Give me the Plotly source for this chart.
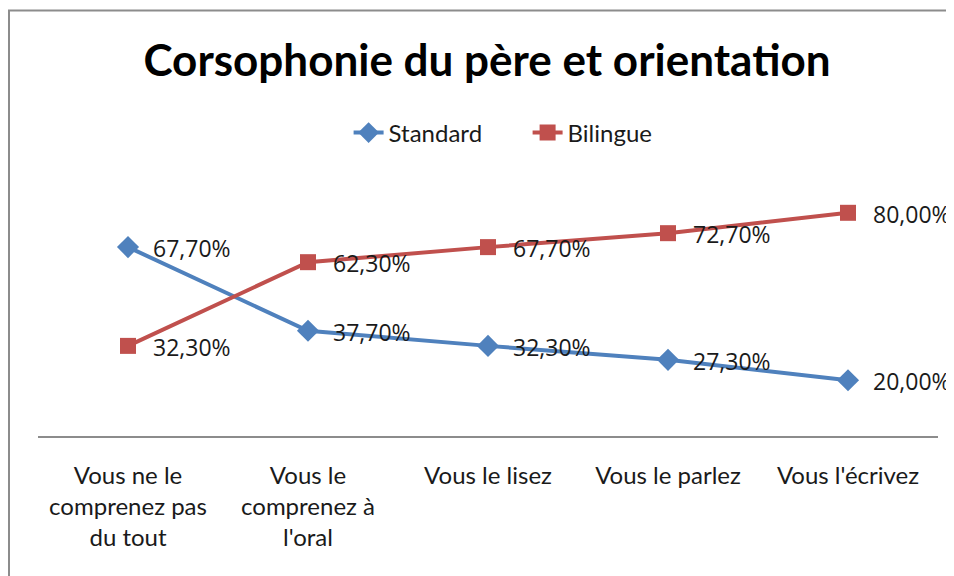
import plotly.graph_objects as go

categories = ["Vous ne le<br>comprenez pas<br>du tout", "Vous le<br>comprenez à<br>l'oral",
              "Vous le lisez", "Vous le parlez", "Vous l'écrivez"]
standard = [67.7, 37.7, 32.3, 27.3, 20.0]
bilingue = [32.3, 62.3, 67.7, 72.7, 80.0]
series_names = ["Standard", "Bilingue"]

BLUE = "#4F81BD"
RED = "#C0504D"
LABEL_FONT = dict(family="Open Sans", size=23, color="#1a1a1a")

W, H = 946, 568

def fmt(v):
    return f"{v:.2f}".replace(".", ",") + "%"

fig = go.Figure()
fig.add_trace(go.Scatter(
    x=list(range(len(categories))), y=standard, name=series_names[0], mode="lines+markers",
    line=dict(color=BLUE, width=4), marker=dict(symbol="diamond", size=17, color=BLUE),
))
fig.add_trace(go.Scatter(
    x=list(range(len(categories))), y=bilingue, name=series_names[1], mode="lines+markers",
    line=dict(color=RED, width=4), marker=dict(symbol="square", size=16, color=RED),
))

annotations = []
for vals in (standard, bilingue):
    for i, v in enumerate(vals):
        annotations.append(dict(x=i, y=v, xref="x", yref="y", text=fmt(v), showarrow=False,
                                xanchor="left", yanchor="middle", xshift=23, yshift=-1,
                                font=LABEL_FONT))

# plot area: 900 x 279 px, starting 30 px from the left and 149 px from the top
fig.update_layout(
    width=W, height=H,
    margin=dict(l=30, r=16, t=149, b=140),
    paper_bgcolor="white", plot_bgcolor="white",
    title=dict(text="<b>Corsophonie du père et orientation</b>", x=479 / W, xanchor="center",
               y=1 - 53 / H, yanchor="middle", yref="container",
               font=dict(family="Lato", size=44, color="black")),
    legend=dict(orientation="h", x=0.544, xanchor="center", y=1.086, yanchor="middle",
                font=dict(family="Lato", size=24, color="#1a1a1a"), bgcolor="rgba(0,0,0,0)",
                entrywidth=134, entrywidthmode="pixels"),
    showlegend=True,
    annotations=annotations,
    shapes=[dict(type="rect", xref="paper", yref="paper",
                 x0=-29 / 900, x1=1.2, y0=-0.7, y1=(279 + 146.5) / 279,
                 line=dict(color="#8c8c8c", width=2), layer="below")],
)
fig.update_xaxes(
    tickmode="array", tickvals=list(range(len(categories))), ticktext=categories,
    range=[-0.5, len(categories) - 0.5], showgrid=False, zeroline=False,
    showline=True, linecolor="#8c8c8c", linewidth=2, ticks="",
    ticklabelstandoff=17,
    tickfont=dict(family="Lato", size=24, color="#1a1a1a"),
)
fig.update_yaxes(range=[0, 100], visible=False, showgrid=False, zeroline=False)

fig.write_html("out.html")
